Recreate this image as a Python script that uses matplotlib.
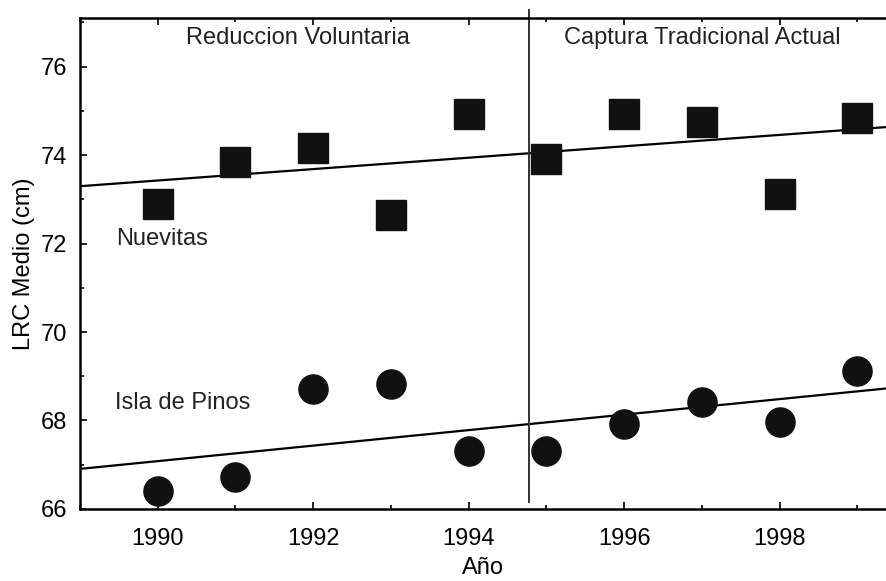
import numpy as np
import matplotlib.pyplot as plt
from matplotlib.ticker import MultipleLocator

plt.rcParams['font.family'] = ['Liberation Sans', 'DejaVu Sans']

years = np.arange(1990, 2000)
nuevitas = [72.9, 73.85, 74.15, 72.64, 74.94, 73.92, 74.94, 74.76, 73.13, 74.83]
pinos = [66.41, 66.72, 68.71, 68.82, 67.31, 67.31, 67.92, 68.42, 67.96, 69.12]
split_year = 1994.78

fig = plt.figure(figsize=(8.86, 5.81), dpi=100)
ax = fig.add_axes([0.0903, 0.124, 0.9097, 0.845])

ax.plot(years, nuevitas, 's', color='#111111', markersize=21, zorder=3)
ax.plot(years, pinos, 'o', color='#111111', markersize=21, zorder=3)

# regression lines
xx = np.array([1988.5, 2000])
for ys in (nuevitas, pinos):
    m, b = np.polyfit(years, ys, 1)
    ax.plot(xx, m * xx + b, color='black', lw=1.6, zorder=2)

ax.axvline(split_year, ymin=0.015, ymax=1.017, color='#333333', lw=1.4, clip_on=False)

ax.set_xlim(1989.0, 1999.37)
ax.set_ylim(66, 77.1)

ax.xaxis.set_major_locator(MultipleLocator(2))
ax.xaxis.set_minor_locator(MultipleLocator(1))
ax.yaxis.set_major_locator(MultipleLocator(2))
ax.yaxis.set_minor_locator(MultipleLocator(1))
ax.tick_params(which='both', direction='in', top=True, right=False, width=1.2)
ax.tick_params(which='major', length=5, labelsize=17)
ax.tick_params(which='minor', length=3)
ax.tick_params(axis='x', which='major', pad=14)
ax.tick_params(axis='y', which='major', pad=9)

for s in ('left', 'bottom', 'top'):
    ax.spines[s].set_linewidth(1.8)
ax.spines['right'].set_visible(False)

ax.text(0.27, 0.96, 'Reduccion Voluntaria', transform=ax.transAxes, ha='center', va='center', fontsize=17, color='#222222')
ax.text(0.772, 0.96, 'Captura Tradicional Actual', transform=ax.transAxes, ha='center', va='center', fontsize=17, color='#222222')
ax.text(1989.47, 72.1, 'Nuevitas', ha='left', va='center', fontsize=17, color='#222222')
ax.text(1989.45, 68.4, 'Isla de Pinos', ha='left', va='center', fontsize=17, color='#222222')

ax.set_xlabel('Año', fontsize=17, labelpad=5)
ax.set_ylabel('LRC Medio (cm)', fontsize=17, labelpad=4)

fig.savefig('out.png', dpi=100)
